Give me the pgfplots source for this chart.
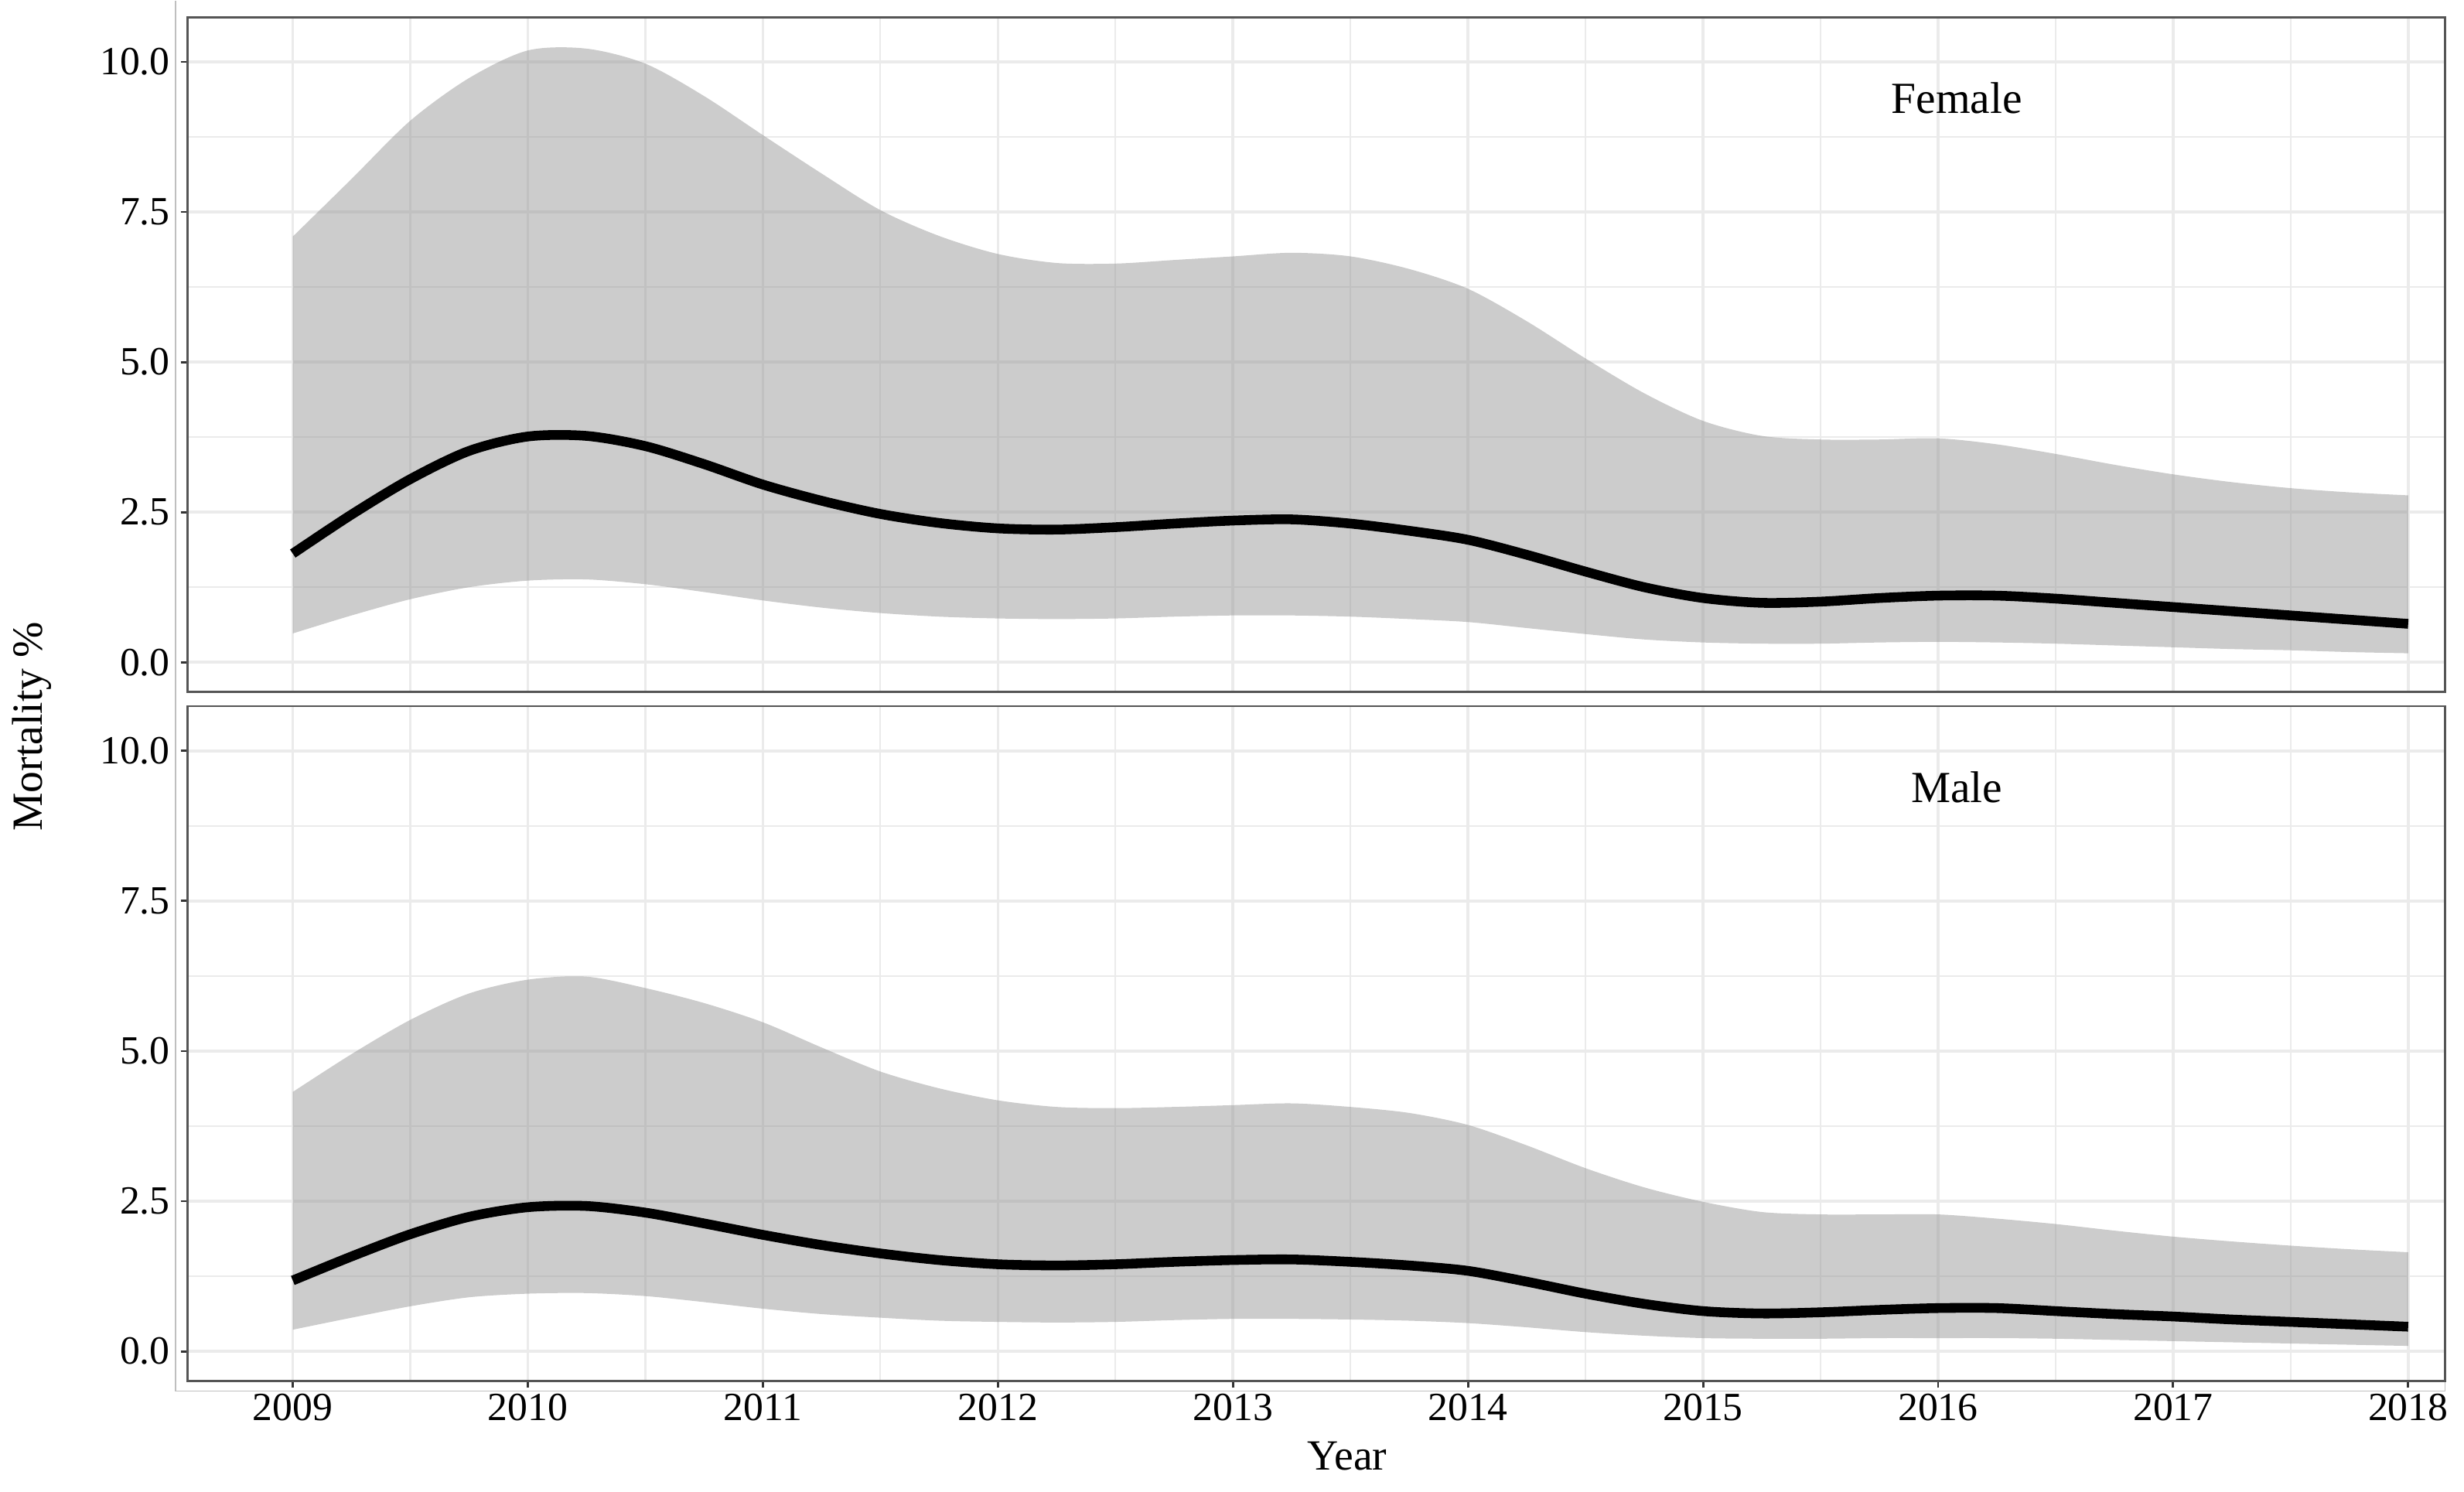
\documentclass[border=0pt]{standalone}
\usepackage{fontspec}
\setmainfont{Liberation Serif}
\usepackage{pgfplots}
\pgfplotsset{compat=1.18}
\usepgfplotslibrary{fillbetween}

\definecolor{gridgray}{HTML}{EBEBEB}
\definecolor{framegray}{HTML}{555555}
\definecolor{tickgray}{HTML}{333333}
\definecolor{ribbon}{HTML}{999999}

% columns: year, lower, fit, upper
\pgfplotstableread{
x lo fit up
2009.00 0.48 1.81 7.09
2009.25 0.78 2.46 8.05
2009.50 1.05 3.05 9.02
2009.75 1.25 3.52 9.73
2010.00 1.36 3.76 10.19
2010.25 1.38 3.77 10.22
2010.50 1.30 3.60 9.97
2010.75 1.17 3.30 9.43
2011.00 1.03 2.96 8.78
2011.25 0.91 2.69 8.14
2011.50 0.82 2.47 7.53
2011.75 0.76 2.32 7.10
2012.00 0.73 2.23 6.80
2012.25 0.72 2.21 6.65
2012.50 0.73 2.25 6.64
2012.75 0.76 2.31 6.70
2013.00 0.78 2.36 6.76
2013.25 0.78 2.38 6.82
2013.50 0.76 2.31 6.76
2013.75 0.72 2.19 6.55
2014.00 0.67 2.04 6.22
2014.25 0.57 1.79 5.68
2014.50 0.47 1.51 5.06
2014.75 0.38 1.25 4.48
2015.00 0.33 1.07 4.02
2015.25 0.31 0.99 3.77
2015.50 0.31 1.01 3.71
2015.75 0.33 1.07 3.71
2016.00 0.34 1.11 3.73
2016.25 0.33 1.11 3.63
2016.50 0.31 1.06 3.47
2016.75 0.28 0.99 3.29
2017.00 0.25 0.92 3.13
2017.25 0.22 0.85 3.00
2017.50 0.20 0.78 2.90
2017.75 0.17 0.71 2.83
2018.00 0.15 0.64 2.78
}\female

\pgfplotstableread{
x lo fit up
2009.00 0.36 1.18 4.32
2009.25 0.56 1.58 4.95
2009.50 0.75 1.95 5.52
2009.75 0.90 2.24 5.96
2010.00 0.96 2.40 6.19
2010.25 0.97 2.42 6.24
2010.50 0.92 2.31 6.05
2010.75 0.82 2.13 5.80
2011.00 0.71 1.94 5.48
2011.25 0.62 1.77 5.06
2011.50 0.56 1.63 4.66
2011.75 0.51 1.52 4.38
2012.00 0.49 1.45 4.18
2012.25 0.48 1.43 4.07
2012.50 0.49 1.45 4.05
2012.75 0.52 1.49 4.07
2013.00 0.54 1.52 4.10
2013.25 0.54 1.53 4.13
2013.50 0.53 1.49 4.07
2013.75 0.51 1.43 3.97
2014.00 0.47 1.34 3.77
2014.25 0.40 1.16 3.43
2014.50 0.32 0.96 3.05
2014.75 0.26 0.79 2.73
2015.00 0.22 0.67 2.49
2015.25 0.21 0.63 2.32
2015.50 0.21 0.65 2.28
2015.75 0.22 0.69 2.28
2016.00 0.22 0.72 2.28
2016.25 0.22 0.72 2.21
2016.50 0.21 0.67 2.12
2016.75 0.19 0.62 2.01
2017.00 0.17 0.58 1.91
2017.25 0.15 0.53 1.83
2017.50 0.13 0.49 1.76
2017.75 0.11 0.45 1.70
2018.00 0.09 0.41 1.65
}\male

\pgfplotsset{
  panel/.style={
    scale only axis,
    width=28.586cm, height=8.546cm,
    anchor=north west,
    xmin=2008.552, xmax=2018.157,
    ymin=-0.497, ymax=10.745,
    xtick={2009,2010,2011,2012,2013,2014,2015,2016,2017,2018},
    ytick={0,2.5,5,7.5,10},
    yticklabels={0.0,2.5,5.0,7.5,10.0},
    minor x tick num=1, minor y tick num=1,
    grid=both,
    major grid style={draw=gridgray, line width=1pt},
    minor grid style={draw=gridgray, line width=0.6pt},
    axis line style={draw=framegray, line width=0.8pt},
    tick align=outside,
    xtick pos=left, ytick pos=left,
    major tick length=0.086cm, minor tick length=0pt,
    major tick style={draw=tickgray, line width=0.8pt},
    /pgf/number format/assume math mode=true,
    tick label style={font=\fontsize{14.4}{17}\selectfont},
    yticklabel style={anchor=east, inner sep=0pt, xshift=-0.13cm},
    xticklabel style={anchor=north, inner sep=0pt, yshift=-0.07cm},
  },
  fit/.style={draw=black, line width=3.5pt, smooth, no marks},
  band/.style={draw=none, smooth, no marks},
}

\begin{document}
\begin{tikzpicture}
\path (0,0) rectangle (31.2cm,-18.881cm);

% outer frame
\draw[draw=black!25, line width=0.5pt] (2.22cm,0) -- (2.22cm,-17.604cm) -- (30.96cm,-17.604cm) -- (30.96cm,-17.49cm);

\begin{axis}[panel, at={(2.374cm,-0.208cm)},
  xticklabels={}, major x tick style={draw=none}]
\addplot[band, name path=fu] table[x=x, y=up] {\female};
\addplot[band, name path=fl] table[x=x, y=lo] {\female};
\addplot[fill=ribbon, fill opacity=0.5, draw=none] fill between[of=fu and fl];
\addplot[fit] table[x=x, y=fit] {\female};
\node[font=\fontsize{16}{19}\selectfont] at (axis cs:2016.08,9.4) {Female};
\end{axis}

\begin{axis}[panel, at={(2.374cm,-8.932cm)},
  xticklabels={2009,2010,2011,2012,2013,2014,2015,2016,2017,2018}]
\addplot[band, name path=mu] table[x=x, y=up] {\male};
\addplot[band, name path=ml] table[x=x, y=lo] {\male};
\addplot[fill=ribbon, fill opacity=0.5, draw=none] fill between[of=mu and ml];
\addplot[fit] table[x=x, y=fit] {\male};
\node[font=\fontsize{16}{19}\selectfont] at (axis cs:2016.08,9.4) {Male};
\end{axis}

\node[rotate=90, font=\fontsize{15.5}{18}\selectfont] at (0.40cm,-9.19cm) {Mortality \%};
\node[anchor=base, font=\fontsize{15.5}{18}\selectfont] at (17.06cm,-18.6cm) {Year};
\end{tikzpicture}
\end{document}
